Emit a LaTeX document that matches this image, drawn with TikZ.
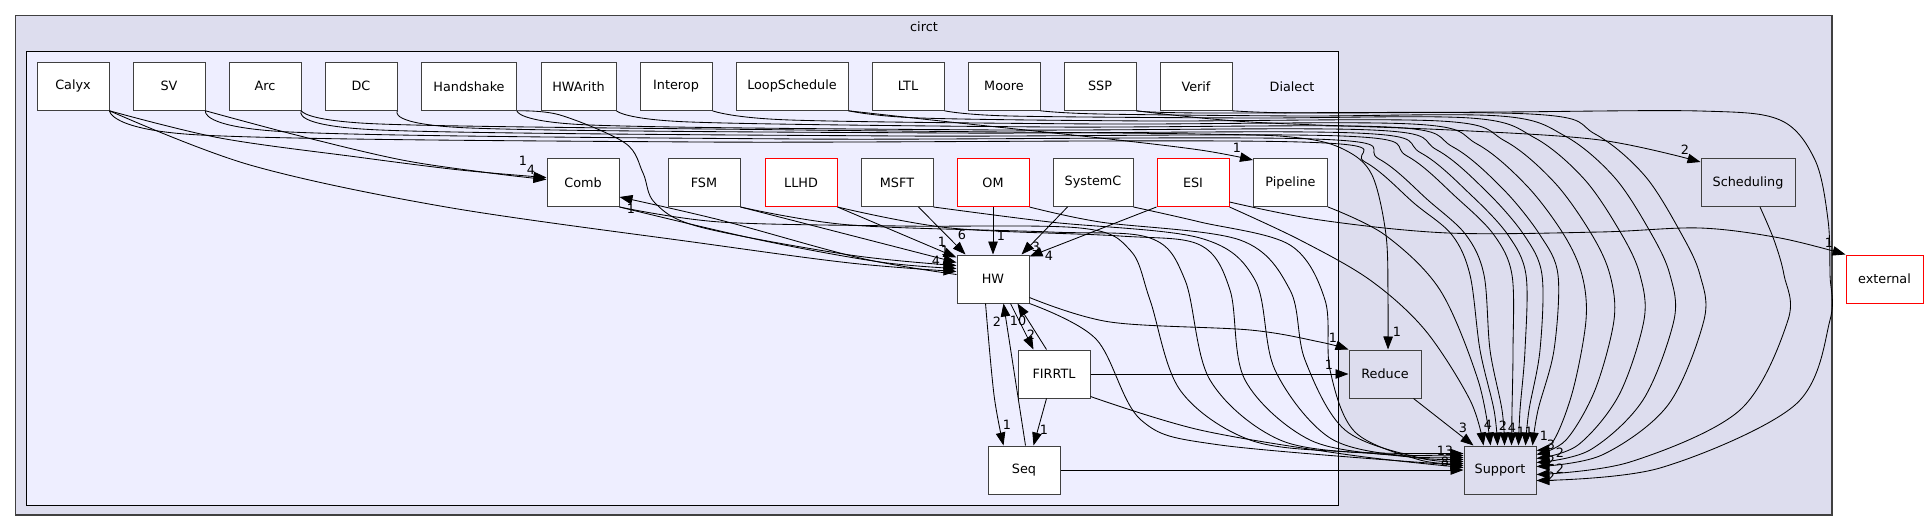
\documentclass[tikz,border=0pt]{standalone}
\usepackage{fontspec}
\setmainfont{DejaVu Sans}
\usetikzlibrary{arrows.meta,calc}
\definecolor{clA}{HTML}{DDDDEE}
\definecolor{clB}{HTML}{EEEEFF}
\definecolor{bdr}{HTML}{404040}
\begin{document}
\begin{tikzpicture}[x=1pt,y=-1pt,
  font=\fontsize{12.8}{15}\selectfont,
  dn/.style={draw=bdr,fill=white,line width=1pt,minimum width=72pt,minimum height=48pt,inner sep=2pt},
  rn/.style={dn,draw=red},
  gn/.style={dn,fill=clA},
  e/.style={line width=0.85pt,-{Triangle[length=13pt,width=9.5pt]}},
  lb/.style={inner sep=0pt},
  sm/.style={smooth,tension=0.55}]
\useasboundingbox (0,0) rectangle (1927,532);
\fill[white] (0,0) rectangle (1927,532);
\draw[draw=bdr,fill=clA,line width=1.2pt] (15.6,15.7) rectangle (1832,515);
\draw[draw=black,fill=clB,line width=1pt] (26.8,51.7) rectangle (1338,505);
\node[lb] (circtlbl) at (924,27) {circt};
\node[lb] (dialectlbl) at (1292,86.3) {Dialect};

% top row
\node[dn] (Calyx) at (73,86.3) {Calyx};
\node[dn] (SV) at (169,86.3) {SV};
\node[dn] (Arc) at (265,86.3) {Arc};
\node[dn] (DC) at (361,86.3) {DC};
\node[dn,minimum width=95pt] (Handshake) at (469,86.3) {Handshake};
\node[dn,minimum width=75pt] (HWArith) at (578.5,86.3) {HWArith};
\node[dn] (Interop) at (676,86.3) {Interop};
\node[dn,minimum width=112pt] (LoopSchedule) at (792,86.3) {LoopSchedule};
\node[dn] (LTL) at (908,86.3) {LTL};
\node[dn] (Moore) at (1004,86.3) {Moore};
\node[dn] (SSP) at (1100,86.3) {SSP};
\node[dn] (Verif) at (1196,86.3) {Verif};
% middle row
\node[dn] (Comb) at (583,182.5) {Comb};
\node[dn] (FSM) at (704,182.5) {FSM};
\node[rn] (LLHD) at (801,182.5) {LLHD};
\node[dn] (MSFT) at (897,182.5) {MSFT};
\node[rn] (OM) at (993,182.5) {OM};
\node[dn,minimum width=80pt] (SystemC) at (1093,182.5) {SystemC};
\node[rn] (ESI) at (1193,182.5) {ESI};
\node[dn,minimum width=74pt] (Pipeline) at (1290.5,182.5) {Pipeline};
\node[gn,minimum width=94pt] (Scheduling) at (1748,182.5) {Scheduling};
% lower
\node[dn] (HW) at (993,279) {HW};
\node[dn] (FIRRTL) at (1054,374) {FIRRTL};
\node[dn] (Seq) at (1024,470) {Seq};
\node[gn] (Reduce) at (1385,374) {Reduce};
\node[gn] (Support) at (1500,470) {Support};
\node[rn,minimum width=77pt] (external) at (1884.5,279) {external};

% anchor points
\coordinate (hwL1) at ($(HW.north west)+(0,3)$);
\coordinate (hwL2) at ($(HW.north west)+(0,8)$);
\coordinate (hwL3) at ($(HW.north west)+(0,11)$);
\coordinate (hwL4) at ($(HW.north west)+(0,14)$);
\coordinate (hwL5) at ($(HW.north west)+(0,17)$);
\coordinate (hwL6) at ($(HW.north west)+(0,20)$);
\coordinate (hwT1) at ($(HW.north west)+(9,0)$);
\coordinate (hwT3) at ($(HW.north east)+(-8,0)$);
\coordinate (hwT4) at ($(HW.north east)+(0,2)$);
\coordinate (hwB1) at ($(HW.south west)+(29,0)$);
\coordinate (hwB2) at ($(HW.south west)+(47,0)$);
\coordinate (hwB3) at ($(HW.south west)+(54,0)$);
\coordinate (hwB4) at ($(HW.south west)+(61,0)$);
\coordinate (hwR1) at ($(HW.south east)+(0,-6)$);
\coordinate (msftB) at ($(MSFT.south west)+(58,0)$);
\coordinate (sysB) at ($(SystemC.south west)+(15,0)$);
\coordinate (combA1) at ($(Comb.west)+(0,-5)$);
\coordinate (combA2) at ($(Comb.west)+(0,-3)$);
\coordinate (combR) at ($(Comb.south east)+(0,-10)$);
\coordinate (fN1) at ($(FIRRTL.north west)+(16,0)$);
\coordinate (fN2) at ($(FIRRTL.north west)+(29,0)$);
\coordinate (fS) at ($(FIRRTL.south west)+(29,0)$);
\coordinate (fSE) at ($(FIRRTL.south east)+(0,-2)$);
\coordinate (seqN1) at ($(Seq.north west)+(16,0)$);
\coordinate (seqN2) at ($(Seq.north west)+(38,0)$);
\coordinate (seqN3) at ($(Seq.north west)+(46,0)$);
\coordinate (redN) at ($(Reduce.north)+(3,0)$);
\coordinate (redS) at ($(Reduce.south east)+(-8,0)$);
\coordinate (pipA) at ($(Pipeline.north west)+(0,2)$);
\coordinate (schA) at ($(Scheduling.north west)+(0,4)$);
\coordinate (schB) at ($(Scheduling.south)+(12,0)$);
\coordinate (esiX) at ($(ESI.south east)+(0,-5)$);
\coordinate (sT0) at ($(Support.north west)+(10,0)$);
\coordinate (sT1) at ($(Support.north west)+(20,0)$);
\coordinate (sT2) at ($(Support.north west)+(27,0)$);
\coordinate (sT3) at ($(Support.north west)+(34,0)$);
\coordinate (sT4) at ($(Support.north west)+(41,0)$);
\coordinate (sT5) at ($(Support.north west)+(48,0)$);
\coordinate (sT6) at ($(Support.north west)+(55,0)$);
\coordinate (sT7) at ($(Support.north west)+(62,0)$);
\coordinate (sT8) at ($(Support.north west)+(69,0)$);
\coordinate (sR1) at ($(Support.north east)+(0,5)$);
\coordinate (sR2) at ($(Support.north east)+(0,9)$);
\coordinate (sR3) at ($(Support.north east)+(0,13)$);
\coordinate (sR4) at ($(Support.north east)+(0,17)$);
\coordinate (sR5) at ($(Support.north east)+(0,21)$);
\coordinate (sR6) at ($(Support.north east)+(0,29)$);
\coordinate (sR7) at ($(Support.north east)+(0,35)$);
\coordinate (sL1) at ($(Support.north west)+(0,8)$);
\coordinate (sL2) at ($(Support.north west)+(0,10)$);
\coordinate (sL3) at ($(Support.north west)+(0,12)$);
\coordinate (sL4) at ($(Support.north west)+(0,14)$);
\coordinate (sL5) at ($(Support.north west)+(0,16)$);
\coordinate (sL6) at ($(Support.north west)+(0,18)$);
\coordinate (sL7) at ($(Support.north west)+(0,20)$);
\coordinate (sL8) at ($(Support.north west)+(0,22)$);

% ---- top row -> Support (bundle)
\draw[e] plot[sm] coordinates {(Calyx.south east) (200,135) (700,142) (1300,142) (1365,162) (1415,204) (1452,235) (1470,275) (1480,350) (1494,410) (sT3)};
\draw[e] plot[sm] coordinates {(SV.south east) (290,132) (800,139) (1314,139) (1379,159) (1429,201) (1466,235) (1484,275) (1490,350) (1502,410) (sT4)};
\draw[e] plot[sm] coordinates {(Arc.south east) (380,130) (900,136) (1342,136) (1407,156) (1457,198) (1494,235) (1512,275) (1513,350) (1512,410) (sT5)};
\draw[e] plot[sm] coordinates {(DC.south east) (470,128) (950,133) (1356,133) (1421,153) (1471,195) (1508,235) (1526,275) (1525,350) (1520,410) (sT6)};
\draw[e] plot[sm] coordinates {(Handshake.south east) (590,125) (1000,130) (1372,130) (1437,150) (1487,192) (1524,235) (1542,275) (1540,350) (1529,410) (sT7)};
\draw[e] plot[sm] coordinates {(HWArith.south east) (690,122) (1050,127) (1388,127) (1453,147) (1503,189) (1540,235) (1558,275) (1554,350) (1538,410) (sT8)};
\draw[e] plot[sm] coordinates {(Interop.south east) (790,120) (1100,124) (1412,124) (1477,144) (1527,186) (1564,235) (1582,275) (1586,320) (1573,390) (1554,440) (sR1)};
\draw[e] plot[sm] coordinates {(LoopSchedule.south east) (920,118) (1150,121) (1440,121) (1505,141) (1555,183) (1592,235) (1610,275) (1614,320) (1595,390) (1566,440) (sR2)};
\draw[e] plot[sm] coordinates {(LTL.south east) (1010,116) (1250,118) (1470,118) (1535,138) (1585,180) (1622,235) (1640,275) (1644,320) (1619,395) (1578,445) (sR3)};
\draw[e] plot[sm] coordinates {(Moore.south east) (1100,114) (1300,116) (1500,116) (1565,136) (1615,178) (1652,235) (1670,275) (1674,320) (1643,400) (1590,450) (sR4)};
\draw[e] plot[sm] coordinates {(SSP.south east) (1200,113) (1530,114) (1595,134) (1645,176) (1682,235) (1700,275) (1704,320) (1668,405) (1602,455) (sR5)};
\draw[e] plot[sm] coordinates {(Verif.south east) (1300,113) (1500,112) (1700,111) (1780,120) (1815,160) (1828,220) (1830,275) (1830,320) (1795,405) (1660,468) (sR7)};
\draw[e] plot[sm] coordinates {(schB) (1774,240) (1784,275) (1788,320) (1740,410) (1630,462) (sR6)};

% ---- other top-row edges
\draw[e] plot[sm] coordinates {(Calyx.south east) (220,138) (357,157) (460,170) (combA1)};
\draw[e] plot[sm] coordinates {(SV.south east) (300,136) (402,160) (490,173) (combA2)};
\draw[e] plot[sm] coordinates {(Calyx.south east) (250,165) (446,207) (700,243) (850,263) (hwL5)};
\draw[e] plot[sm] coordinates {(Handshake.south east) (560,115) (625,143) (643,173) (655,203) (700,227) (850,255) (hwL3)};
\draw[e] plot[sm] coordinates {(Arc.south east) (380,124) (800,130) (1200,134) (1300,138) (1345,150) (1372,175) (1386,235) (1388,300) (redN)};
\draw[e] plot[sm] coordinates {(LoopSchedule.south east) (950,122) (1100,138) (1200,150) (pipA)};
\draw[e] plot[sm] coordinates {(SSP.south east) (1250,122) (1450,130) (1600,140) (schA)};

% ---- middle row -> HW
\draw[e] plot[sm] coordinates {(Comb.south east) (760,240) (880,262) (hwL4)};
\draw[e] plot[sm] coordinates {(hwL6) (860,258) (720,220) (combR)};
\draw[e] (FSM.south east) -- (hwL2);
\draw[e] (LLHD.south east) -- (hwL1);
\draw[e] (msftB) -- (hwT1);
\draw[e] (OM.south) -- (HW.north);
\draw[e] (sysB) -- (hwT3);
\draw[e] (ESI.south west) -- (hwT4);

% ---- middle row -> Support
\draw[e] plot[sm] coordinates {(Comb.south east) (720,222) (900,226) (1080,228) (1130,250) (1150,300) (1180,390) (1250,440) (1350,452) (sL1)};
\draw[e] plot[sm] coordinates {(FSM.south east) (850,225) (1050,232) (1150,238) (1185,280) (1210,380) (1280,440) (1380,454) (sL2)};
\draw[e] plot[sm] coordinates {(LLHD.south east) (950,228) (1120,236) (1200,245) (1230,290) (1245,380) (1310,440) (1400,456) (sL3)};
\draw[e] plot[sm] coordinates {(MSFT.south east) (1050,222) (1200,238) (1255,280) (1275,370) (1330,438) (1410,457) (sL4)};
\draw[e] plot[sm] coordinates {(OM.south east) (1100,222) (1240,240) (1290,290) (1305,360) (1345,430) (1420,458) (sL5)};
\draw[e] plot[sm] coordinates {(SystemC.south east) (1200,222) (1290,245) (1325,300) (1330,370) (1355,432) (1420,460) (sL6)};
\draw[e] plot[sm] coordinates {(ESI.south east) (1300,240) (1370,280) (1425,330) (1470,400) (sT1)};
\draw[e] plot[sm] coordinates {(esiX) (1320,220) (1448,233) (1600,232) (1700,228) (1780,238) (external.north west)};
\draw[e] plot[sm] coordinates {(Pipeline.south east) (1385,235) (1440,290) (1478,380) (sT2)};

% ---- HW / FIRRTL / Seq / Reduce
\draw[e] plot[sm] coordinates {(hwR1) (1110,322) (1250,330) (1320,342) (Reduce.north west)};
\draw[e] plot[sm] coordinates {(HW.south east) (1096,339) (1141,420) (1220,445) (sL7)};
\draw[e] (FIRRTL.east) -- (Reduce.west);
\draw[e] plot[sm] coordinates {(fSE) (1200,430) (1350,455) (sL8)};
\draw[e] (Seq.east) -- (Support.west);
\draw[e] (redS) -- (sT0);
\draw[e] plot[sm] coordinates {(hwB1) (994,395) (seqN1)};
\draw[e] (seqN2) -- (hwB2);
\draw[e] (hwB3) -- (fN1);
\draw[e] (fN2) -- (hwB4);
\draw[e] (fS) -- (seqN3);

% ---- labels
\node[lb] (l01) at (523,161) {1};
\node[lb] (l02) at (531,170) {4};
\node[lb] (l03) at (631,209) {1};
\node[lb] (l04) at (942,242) {1};
\node[lb] (l05) at (945,251) {1};
\node[lb] (l06) at (936,261) {4};
\node[lb] (l07) at (962,235) {6};
\node[lb] (l08) at (1001,236) {1};
\node[lb] (l09) at (1036,247) {3};
\node[lb] (l10) at (1049,256) {4};
\node[lb] (l11) at (1237,148) {1};
\node[lb] (l12) at (1685,150) {2};
\node[lb] (l13) at (1829,243) {1};
\node[lb] (l14) at (1397,332) {1};
\node[lb] (l15) at (1333,338) {1};
\node[lb] (l16) at (1329,365) {1};
\node[lb] (l17) at (1031,335) {2};
\node[lb] (l18) at (1018,321) {10};
\node[lb] (l19) at (997,322) {2};
\node[lb] (l20) at (1007,425) {1};
\node[lb] (l21) at (1044,430) {1};
\node[lb] (l22) at (1463,428) {3};
\node[lb] (l23) at (1488,425) {4};
\node[lb] (l24) at (1503,426) {2};
\node[lb] (l25) at (1512,428) {4};
\node[lb] (l26) at (1521,432) {1};
\node[lb] (l27) at (1529,432) {1};
\node[lb] (l28) at (1544,436) {1};
\node[lb] (l29) at (1551,445) {3};
\node[lb] (l30) at (1560,453) {2};
\node[lb] (l31) at (1551,461) {2};
\node[lb] (l32) at (1560,469) {2};
\node[lb] (l33) at (1551,477) {2};
\node[lb] (l34) at (1441,451) {1};
\node[lb] (l35) at (1449,451) {3};
\node[lb] (l36) at (1445,462) {8};
\end{tikzpicture}
\end{document}
